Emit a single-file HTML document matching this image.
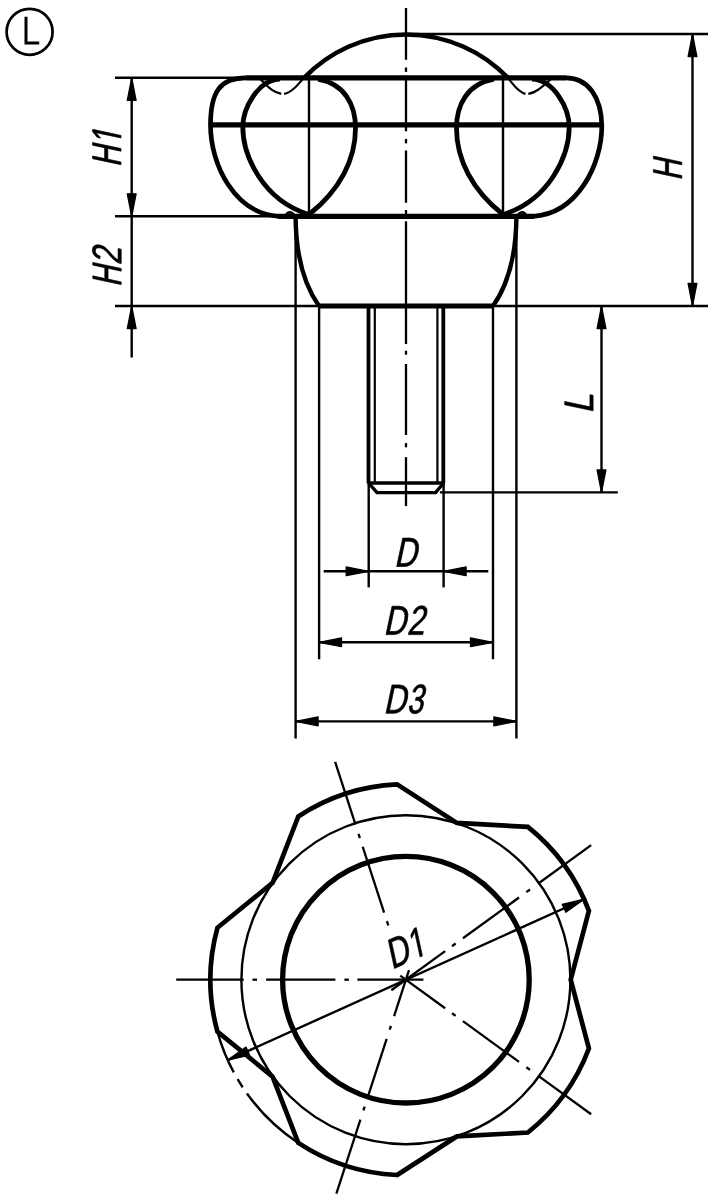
<!DOCTYPE html>
<html><head><meta charset="utf-8"><style>
html,body{margin:0;padding:0;background:#fff;}
svg{display:block;}
</style></head><body>
<svg width="714" height="1200" viewBox="0 0 714 1200">
<rect width="714" height="1200" fill="#fff"/>
<g stroke="#000" fill="none" stroke-linecap="butt">
<circle cx="29.6" cy="31.8" r="23.0" fill="none" stroke-width="2.7"/>
<path d="M26.0,16.8 V43.0 H39.2" stroke-width="3.0" fill="none" stroke-linecap="butt" stroke-linejoin="miter"/>
<line x1="406.00" y1="8.00" x2="406.00" y2="59.80" stroke-width="2.3"/>
<line x1="406.00" y1="67.50" x2="406.00" y2="71.90" stroke-width="2.3"/>
<line x1="406.00" y1="75.70" x2="406.00" y2="131.30" stroke-width="2.3"/>
<line x1="406.00" y1="139.00" x2="406.00" y2="143.40" stroke-width="2.3"/>
<line x1="406.00" y1="150.50" x2="406.00" y2="202.80" stroke-width="2.3"/>
<line x1="406.00" y1="210.00" x2="406.00" y2="214.00" stroke-width="2.3"/>
<line x1="406.00" y1="221.30" x2="406.00" y2="344.00" stroke-width="2.3"/>
<line x1="406.00" y1="350.70" x2="406.00" y2="354.70" stroke-width="2.3"/>
<line x1="406.00" y1="364.00" x2="406.00" y2="435.00" stroke-width="2.3"/>
<line x1="406.00" y1="443.10" x2="406.00" y2="447.30" stroke-width="2.3"/>
<line x1="406.00" y1="457.10" x2="406.00" y2="506.10" stroke-width="2.3"/>
<line x1="406.00" y1="34.00" x2="708.00" y2="34.00" stroke-width="2.4"/>
<line x1="115.00" y1="77.70" x2="246.00" y2="77.70" stroke-width="2.4"/>
<line x1="246.00" y1="77.90" x2="566.00" y2="77.90" stroke-width="5.2"/>
<line x1="210.50" y1="124.90" x2="601.50" y2="124.90" stroke-width="5.2"/>
<line x1="115.00" y1="216.30" x2="278.00" y2="216.30" stroke-width="2.4"/>
<line x1="278.00" y1="216.30" x2="534.00" y2="216.30" stroke-width="5.2"/>
<line x1="115.00" y1="306.00" x2="319.00" y2="306.00" stroke-width="2.4"/>
<line x1="319.00" y1="306.00" x2="493.00" y2="306.00" stroke-width="5.2"/>
<line x1="493.00" y1="306.00" x2="708.00" y2="306.00" stroke-width="2.4"/>
<path d="M304.02,77.9 A141.3,141.3 0 0 1 507.98,77.9" stroke-width="4.5" fill="none" />
<path d="M305.8,75.6 C297,86 291,93 284.1,93.8" stroke-width="2.2" fill="none" />
<path d="M281.3,93.8 C271,92 266,84 259.8,78.6" stroke-width="2.2" fill="none" />
<path d="M506.5,76.5 C512,82 517,92 525.5,93.8" stroke-width="2.2" fill="none" />
<path d="M528.3,93.8 C536,93 543,86 550.5,79.5" stroke-width="2.2" fill="none" />
<path d="M246,77.9 C220,77.9 210.5,92 210.5,125 C210.5,165 235,214 279,216.3" stroke-width="4.7" fill="none" />
<path d="M566,77.9 C588,77.9 601.5,97 601.8,126 C601.8,165 577,214 533,216.3" stroke-width="4.7" fill="none" />
<path d="M309,214.5 C262,200 242.8,154.7 242.8,127 C242.8,108 258,80 280,79.2" stroke-width="4.8" fill="none" />
<path d="M309,214.5 C340,190 355.5,159.4 355.5,128 C355.5,105 345,84 318,79.2" stroke-width="4.8" fill="none" />
<path d="M503,214.5 C550,200 569.2,154.7 569.2,127 C569.2,108 554,80 532,79.2" stroke-width="4.8" fill="none" />
<path d="M503,214.5 C472,190 456.5,159.4 456.5,128 C456.5,105 467,84 494,79.2" stroke-width="4.8" fill="none" />
<line x1="309.00" y1="77.90" x2="309.00" y2="216.30" stroke-width="2.4"/>
<line x1="503.00" y1="77.90" x2="503.00" y2="216.30" stroke-width="2.4"/>
<path d="M295.6,216.5 C295.8,250 302,282 319,306" stroke-width="4.4" fill="none" />
<path d="M516.4,216.5 C516.2,250 510,282 493,306" stroke-width="4.4" fill="none" />
<path d="M285.5,216 C288,211 292,211 295.6,217" stroke-width="2.6" fill="none" />
<path d="M526.5,216 C524,211 520,211 516.4,217" stroke-width="2.6" fill="none" />
<line x1="295.60" y1="217.00" x2="295.60" y2="738.50" stroke-width="2.4"/>
<line x1="516.40" y1="217.00" x2="516.40" y2="738.50" stroke-width="2.4"/>
<line x1="319.10" y1="306.00" x2="319.10" y2="659.20" stroke-width="2.4"/>
<line x1="493.00" y1="306.00" x2="493.00" y2="659.20" stroke-width="2.4"/>
<line x1="368.70" y1="483.00" x2="368.70" y2="587.40" stroke-width="2.4"/>
<line x1="443.60" y1="483.00" x2="443.60" y2="587.40" stroke-width="2.4"/>
<line x1="368.50" y1="306.00" x2="368.50" y2="483.00" stroke-width="3.8"/>
<line x1="443.30" y1="306.00" x2="443.30" y2="483.00" stroke-width="3.8"/>
<line x1="374.80" y1="306.00" x2="374.80" y2="483.00" stroke-width="2.2"/>
<line x1="437.40" y1="306.00" x2="437.40" y2="483.00" stroke-width="2.2"/>
<line x1="367.50" y1="483.00" x2="444.80" y2="483.00" stroke-width="3.4"/>
<path d="M368.7,483 L377,492.6 L435.6,492.6 L443.6,483" stroke-width="3.4" fill="none" />
<line x1="440.00" y1="492.40" x2="617.80" y2="492.40" stroke-width="2.4"/>
<line x1="131.70" y1="77.90" x2="131.70" y2="357.60" stroke-width="2.4"/>
<path d="M131.70,77.90 L136.10,100.40 L127.30,100.40 Z" fill="#000" stroke="#000" stroke-width="1.3" stroke-linejoin="round"/>
<path d="M131.70,216.30 L127.30,193.80 L136.10,193.80 Z" fill="#000" stroke="#000" stroke-width="1.3" stroke-linejoin="round"/>
<path d="M131.70,306.00 L136.10,328.50 L127.30,328.50 Z" fill="#000" stroke="#000" stroke-width="1.3" stroke-linejoin="round"/>
<line x1="692.50" y1="34.00" x2="692.50" y2="306.00" stroke-width="2.4"/>
<path d="M692.50,34.00 L696.90,56.50 L688.10,56.50 Z" fill="#000" stroke="#000" stroke-width="1.3" stroke-linejoin="round"/>
<path d="M692.50,306.00 L688.10,283.50 L696.90,283.50 Z" fill="#000" stroke="#000" stroke-width="1.3" stroke-linejoin="round"/>
<line x1="601.50" y1="306.00" x2="601.50" y2="492.40" stroke-width="2.4"/>
<path d="M601.50,306.00 L605.90,328.50 L597.10,328.50 Z" fill="#000" stroke="#000" stroke-width="1.3" stroke-linejoin="round"/>
<path d="M601.50,492.40 L597.10,469.90 L605.90,469.90 Z" fill="#000" stroke="#000" stroke-width="1.3" stroke-linejoin="round"/>
<line x1="323.70" y1="571.30" x2="488.30" y2="571.30" stroke-width="2.4"/>
<path d="M368.70,571.30 L346.20,575.70 L346.20,566.90 Z" fill="#000" stroke="#000" stroke-width="1.3" stroke-linejoin="round"/>
<path d="M443.60,571.30 L466.10,566.90 L466.10,575.70 Z" fill="#000" stroke="#000" stroke-width="1.3" stroke-linejoin="round"/>
<line x1="319.00" y1="642.30" x2="493.00" y2="642.30" stroke-width="2.4"/>
<path d="M319.00,642.30 L341.50,637.90 L341.50,646.70 Z" fill="#000" stroke="#000" stroke-width="1.3" stroke-linejoin="round"/>
<path d="M493.00,642.30 L470.50,646.70 L470.50,637.90 Z" fill="#000" stroke="#000" stroke-width="1.3" stroke-linejoin="round"/>
<line x1="295.60" y1="721.40" x2="516.40" y2="721.40" stroke-width="2.4"/>
<path d="M295.60,721.40 L318.10,717.00 L318.10,725.80 Z" fill="#000" stroke="#000" stroke-width="1.3" stroke-linejoin="round"/>
<path d="M516.40,721.40 L493.90,725.80 L493.90,717.00 Z" fill="#000" stroke="#000" stroke-width="1.3" stroke-linejoin="round"/>
<circle cx="405.9" cy="979.7" r="123.3" fill="none" stroke-width="5.3"/>
<circle cx="405.9" cy="979.7" r="164.5" fill="none" stroke-width="2.4"/>
<path d="M588.90,910.91 A195.5,195.5 0 0 0 527.87,826.91 L456.83,822.97 L397.03,784.40 A195.5,195.5 0 0 0 298.28,816.49 L272.57,882.83 L217.42,927.78 A195.5,195.5 0 0 0 217.42,1031.62 L272.57,1076.57 L298.28,1142.91 A195.5,195.5 0 0 0 397.03,1175.00 L456.83,1136.43 L527.87,1132.49 A195.5,195.5 0 0 0 588.90,1048.49 L570.70,979.70 Z" stroke-width="4.7" fill="none" stroke-linejoin="miter"/>
<path d="M217.42,1031.62 A195.5,195.5 0 0 0 233.77,1072.38" stroke-width="2.4" fill="none" />
<path d="M237.62,1079.22 A195.5,195.5 0 0 0 242.69,1087.32" stroke-width="2.4" fill="none" />
<path d="M246.94,1093.51 A195.5,195.5 0 0 0 298.28,1142.91" stroke-width="2.4" fill="none" />
<line x1="584.08" y1="899.25" x2="227.72" y2="1060.15" stroke-width="2.4"/>
<path d="M584.08,899.25 L565.84,912.31 L562.22,904.29 Z" fill="#000" stroke="#000" stroke-width="1.3" stroke-linejoin="round"/>
<path d="M227.72,1060.15 L245.96,1047.09 L249.58,1055.11 Z" fill="#000" stroke="#000" stroke-width="1.3" stroke-linejoin="round"/>
<line x1="423.40" y1="979.70" x2="357.40" y2="979.70" stroke-width="2.3"/>
<line x1="348.90" y1="979.70" x2="344.40" y2="979.70" stroke-width="2.3"/>
<line x1="335.40" y1="979.70" x2="266.10" y2="979.70" stroke-width="2.3"/>
<line x1="257.00" y1="979.70" x2="252.50" y2="979.70" stroke-width="2.3"/>
<line x1="243.70" y1="979.70" x2="176.20" y2="979.70" stroke-width="2.3"/>
<line x1="391.34" y1="990.28" x2="445.14" y2="951.19" stroke-width="2.3"/>
<line x1="452.01" y1="946.20" x2="455.65" y2="943.55" stroke-width="2.3"/>
<line x1="462.94" y1="938.26" x2="519.00" y2="897.53" stroke-width="2.3"/>
<line x1="526.36" y1="892.18" x2="530.00" y2="889.53" stroke-width="2.3"/>
<line x1="538.01" y1="883.71" x2="591.16" y2="845.10" stroke-width="2.3"/>
<line x1="408.99" y1="970.19" x2="394.10" y2="1016.03" stroke-width="2.3"/>
<line x1="390.91" y1="1025.83" x2="389.68" y2="1029.63" stroke-width="2.3"/>
<line x1="386.65" y1="1038.95" x2="368.48" y2="1094.87" stroke-width="2.3"/>
<line x1="364.65" y1="1106.67" x2="363.41" y2="1110.47" stroke-width="2.3"/>
<line x1="360.41" y1="1119.70" x2="336.37" y2="1193.69" stroke-width="2.3"/>
<line x1="400.24" y1="975.59" x2="445.14" y2="1008.21" stroke-width="2.3"/>
<line x1="452.01" y1="1013.20" x2="455.65" y2="1015.85" stroke-width="2.3"/>
<line x1="462.94" y1="1021.14" x2="519.00" y2="1061.87" stroke-width="2.3"/>
<line x1="526.36" y1="1067.22" x2="530.00" y2="1069.87" stroke-width="2.3"/>
<line x1="538.01" y1="1075.69" x2="591.16" y2="1114.30" stroke-width="2.3"/>
<line x1="388.29" y1="925.49" x2="386.90" y2="921.21" stroke-width="2.3"/>
<line x1="384.11" y1="912.65" x2="362.70" y2="846.74" stroke-width="2.3"/>
<line x1="359.89" y1="838.09" x2="358.50" y2="833.81" stroke-width="2.3"/>
<line x1="355.44" y1="824.39" x2="335.14" y2="761.91" stroke-width="2.3"/>
<g transform="translate(121,164.7) rotate(-90) skewX(-12.0)" fill="#000" stroke="#000" stroke-width="0.7" stroke-linejoin="round"><path vector-effect="non-scaling-stroke" transform="translate(-2.370,0) scale(0.01411,-0.02016)" d="M1121 0V653H359V0H168V1409H359V813H1121V1409H1312V0Z"/><path vector-effect="non-scaling-stroke" transform="translate(19.497,0) scale(0.01411,-0.02016)" d="M515 0V1237L197 1010V1180L530 1409H696V0Z"/></g>
<g transform="translate(121.2,284.6) rotate(-90) skewX(-12.0)" fill="#000" stroke="#000" stroke-width="0.7" stroke-linejoin="round"><path vector-effect="non-scaling-stroke" transform="translate(-2.370,0) scale(0.01411,-0.02016)" d="M1121 0V653H359V0H168V1409H359V813H1121V1409H1312V0Z"/><path vector-effect="non-scaling-stroke" transform="translate(19.497,0) scale(0.01532,-0.02016)" d="M103 0V127Q154 244 227.5 333.5Q301 423 382.0 495.5Q463 568 542.5 630.0Q622 692 686.0 754.0Q750 816 789.5 884.0Q829 952 829 1038Q829 1154 761.0 1218.0Q693 1282 572 1282Q457 1282 382.5 1219.5Q308 1157 295 1044L111 1061Q131 1230 254.5 1330.0Q378 1430 572 1430Q785 1430 899.5 1329.5Q1014 1229 1014 1044Q1014 962 976.5 881.0Q939 800 865.0 719.0Q791 638 582 468Q467 374 399.0 298.5Q331 223 301 153H1036V0Z"/></g>
<g transform="translate(681.8,178.3) rotate(-90) skewX(-12.0)" fill="#000" stroke="#000" stroke-width="0.7" stroke-linejoin="round"><path vector-effect="non-scaling-stroke" transform="translate(-2.370,0) scale(0.01411,-0.02016)" d="M1121 0V653H359V0H168V1409H359V813H1121V1409H1312V0Z"/></g>
<g transform="translate(593.1,410.8) rotate(-90) skewX(-12.0)" fill="#000" stroke="#000" stroke-width="0.7" stroke-linejoin="round"><path vector-effect="non-scaling-stroke" transform="translate(-2.878,0) scale(0.01713,-0.02016)" d="M168 0V1409H359V156H1071V0Z"/></g>
<g transform="translate(396.7,566.5) rotate(0) skewX(-12.0)" fill="#000" stroke="#000" stroke-width="0.7" stroke-linejoin="round"><path vector-effect="non-scaling-stroke" transform="translate(-2.540,0) scale(0.01512,-0.02016)" d="M1381 719Q1381 501 1296.0 337.5Q1211 174 1055.0 87.0Q899 0 695 0H168V1409H634Q992 1409 1186.5 1229.5Q1381 1050 1381 719ZM1189 719Q1189 981 1045.5 1118.5Q902 1256 630 1256H359V153H673Q828 153 945.5 221.0Q1063 289 1126.0 417.0Q1189 545 1189 719Z"/></g>
<g transform="translate(386.0,634.6) rotate(0) skewX(-12.0)" fill="#000" stroke="#000" stroke-width="0.7" stroke-linejoin="round"><path vector-effect="non-scaling-stroke" transform="translate(-2.540,0) scale(0.01512,-0.02016)" d="M1381 719Q1381 501 1296.0 337.5Q1211 174 1055.0 87.0Q899 0 695 0H168V1409H634Q992 1409 1186.5 1229.5Q1381 1050 1381 719ZM1189 719Q1189 981 1045.5 1118.5Q902 1256 630 1256H359V153H673Q828 153 945.5 221.0Q1063 289 1126.0 417.0Q1189 545 1189 719Z"/><path vector-effect="non-scaling-stroke" transform="translate(20.819,0) scale(0.01532,-0.02016)" d="M103 0V127Q154 244 227.5 333.5Q301 423 382.0 495.5Q463 568 542.5 630.0Q622 692 686.0 754.0Q750 816 789.5 884.0Q829 952 829 1038Q829 1154 761.0 1218.0Q693 1282 572 1282Q457 1282 382.5 1219.5Q308 1157 295 1044L111 1061Q131 1230 254.5 1330.0Q378 1430 572 1430Q785 1430 899.5 1329.5Q1014 1229 1014 1044Q1014 962 976.5 881.0Q939 800 865.0 719.0Q791 638 582 468Q467 374 399.0 298.5Q331 223 301 153H1036V0Z"/></g>
<g transform="translate(386.0,713.3) rotate(0) skewX(-12.0)" fill="#000" stroke="#000" stroke-width="0.7" stroke-linejoin="round"><path vector-effect="non-scaling-stroke" transform="translate(-2.540,0) scale(0.01512,-0.02016)" d="M1381 719Q1381 501 1296.0 337.5Q1211 174 1055.0 87.0Q899 0 695 0H168V1409H634Q992 1409 1186.5 1229.5Q1381 1050 1381 719ZM1189 719Q1189 981 1045.5 1118.5Q902 1256 630 1256H359V153H673Q828 153 945.5 221.0Q1063 289 1126.0 417.0Q1189 545 1189 719Z"/><path vector-effect="non-scaling-stroke" transform="translate(20.819,0) scale(0.01411,-0.02016)" d="M1049 389Q1049 194 925.0 87.0Q801 -20 571 -20Q357 -20 229.5 76.5Q102 173 78 362L264 379Q300 129 571 129Q707 129 784.5 196.0Q862 263 862 395Q862 510 773.5 574.5Q685 639 518 639H416V795H514Q662 795 743.5 859.5Q825 924 825 1038Q825 1151 758.5 1216.5Q692 1282 561 1282Q442 1282 368.5 1221.0Q295 1160 283 1049L102 1063Q122 1236 245.5 1333.0Q369 1430 563 1430Q775 1430 892.5 1331.5Q1010 1233 1010 1057Q1010 922 934.5 837.5Q859 753 715 723V719Q873 702 961.0 613.0Q1049 524 1049 389Z"/></g>
<g transform="translate(394.5,968.5) rotate(-24.3) skewX(-12.0)" fill="#000" stroke="#000" stroke-width="0.7" stroke-linejoin="round"><path vector-effect="non-scaling-stroke" transform="translate(-2.540,0) scale(0.01512,-0.02016)" d="M1381 719Q1381 501 1296.0 337.5Q1211 174 1055.0 87.0Q899 0 695 0H168V1409H634Q992 1409 1186.5 1229.5Q1381 1050 1381 719ZM1189 719Q1189 981 1045.5 1118.5Q902 1256 630 1256H359V153H673Q828 153 945.5 221.0Q1063 289 1126.0 417.0Q1189 545 1189 719Z"/><path vector-effect="non-scaling-stroke" transform="translate(20.819,0) scale(0.01411,-0.02016)" d="M515 0V1237L197 1010V1180L530 1409H696V0Z"/></g>
</g>
</svg>
</body></html>
